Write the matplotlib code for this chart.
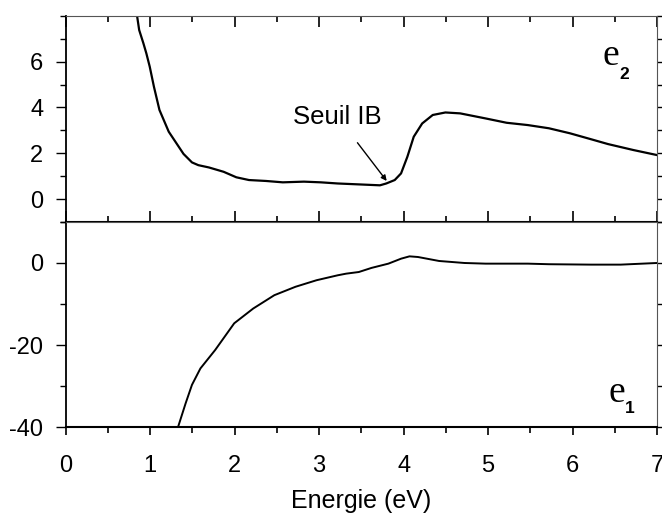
import matplotlib
matplotlib.use("Agg")
import matplotlib.pyplot as plt
from matplotlib.ticker import MultipleLocator

plt.rcParams['font.family'] = ['Liberation Sans', 'DejaVu Sans']
plt.rcParams['axes.unicode_minus'] = False

# Imaginary part of the dielectric function (e2)
energy_e2 = [0.84, 0.845, 0.87, 0.92, 0.955, 0.995, 1.045, 1.11, 1.22, 1.395, 1.495,
             1.57, 1.695, 1.87, 2.02, 2.17, 2.37, 2.57, 2.82, 3.02, 3.22, 3.47,
             3.72, 3.795, 3.895, 3.97, 4.045, 4.12, 4.22, 4.345, 4.495, 4.67,
             4.97, 5.22, 5.47, 5.72, 5.97, 6.22, 6.42, 6.72, 7.0]
eps2 = [8.4, 8.0, 7.38, 6.8, 6.36, 5.78, 4.9, 3.89, 2.94, 1.97, 1.60,
        1.48, 1.38, 1.19, 0.95, 0.83, 0.79, 0.73, 0.76, 0.73, 0.68, 0.64,
        0.60, 0.68, 0.83, 1.12, 1.85, 2.72, 3.30, 3.67, 3.78, 3.74,
        3.52, 3.33, 3.23, 3.09, 2.87, 2.61, 2.40, 2.14, 1.92]

# Real part of the dielectric function (e1)
energy_e1 = [1.33, 1.42, 1.495, 1.595, 1.77, 1.995, 2.22, 2.47, 2.72, 2.97, 3.22,
             3.32, 3.47, 3.62, 3.82, 3.97, 4.07, 4.17, 4.42, 4.72, 4.97, 5.47,
             5.72, 6.22, 6.57, 7.0]
eps1 = [-40.0, -34.2, -29.7, -25.7, -21.2, -14.7, -11.1, -7.85, -5.8, -4.2, -3.0,
        -2.6, -2.2, -1.2, -0.16, 1.05, 1.62, 1.46, 0.49, 0.0, -0.16, -0.16,
        -0.3, -0.4, -0.4, 0.0]

e2_ticks = [0, 2, 4, 6]
e1_ticks = [-40, -20, 0]
x_ticks = [0, 1, 2, 3, 4, 5, 6, 7]

fig = plt.figure(figsize=(6.62, 5.18), dpi=100)
left, right = 0.0992, 0.9925
ax2 = fig.add_axes([left, 0.5715, right - left, 0.398])
ax1 = fig.add_axes([left, 0.1755, right - left, 0.396], sharex=ax2)

FS = 17

for ax in (ax2, ax1):
    ax.spines['left'].set_linewidth(1.3)
    ax.spines['bottom'].set_linewidth(1.5)
    ax.spines['top'].set_linewidth(0.8)
    ax.spines['right'].set_linewidth(0.8)
    ax.spines['top'].set_color('#555555')
    ax.spines['right'].set_color('#555555')
    ax.xaxis.set_major_locator(MultipleLocator(1))
    ax.xaxis.set_minor_locator(MultipleLocator(0.5))

ax2.plot(energy_e2, eps2, color='black', lw=1.6)
ax2.set_xlim(0, 7)
ax2.set_ylim(-1, 8)
ax2.set_yticks(e2_ticks)
ax2.yaxis.set_minor_locator(MultipleLocator(1))
ax2.tick_params(axis='x', which='both', direction='in', labelbottom=False,
                top=True, width=1.2)
ax2.tick_params(axis='x', which='major', length=8)
ax2.tick_params(axis='x', which='minor', length=4)
ax2.tick_params(axis='y', which='both', direction='out', right=True,
                labelsize=FS, width=1.0, pad=9)
ax2.tick_params(axis='y', which='major', length=7)
ax2.tick_params(axis='y', which='minor', length=4)

ax1.plot(energy_e1, eps1, color='black', lw=1.4)
ax1.set_ylim(-40, 10)
ax1.set_yticks(e1_ticks)
ax1.yaxis.set_minor_locator(MultipleLocator(10))
ax1.set_xticks(x_ticks)
ax1.tick_params(axis='x', which='both', direction='out', labelsize=FS,
                width=1.2, pad=14)
ax1.tick_params(axis='x', which='major', length=6)
ax1.tick_params(axis='x', which='minor', length=4)
ax1.tick_params(axis='y', which='both', direction='out', right=True,
                labelsize=FS, width=1.0, pad=9)
ax1.tick_params(axis='y', which='major', length=7)
ax1.tick_params(axis='y', which='minor', length=4)
ax1.set_xlabel('Energie (eV)', fontsize=18, labelpad=9)

ax2.annotate('Seuil IB', xy=(3.80, 0.79), xytext=(3.22, 3.28),
             fontsize=18.5, ha='center', va='baseline',
             arrowprops=dict(arrowstyle='-|>', color='black', lw=1.0,
                             mutation_scale=8, shrinkA=10, shrinkB=0))

ax2.text(6.45, 5.85, 'e', family='Liberation Serif', fontsize=27,
         ha='center', va='baseline')
ax2.text(6.56, 5.23, '2', fontsize=12.5, fontweight='bold', ha='left', va='baseline')
ax1.text(6.52, -33.8, 'e', family='Liberation Serif', fontsize=27,
         ha='center', va='baseline')
ax1.text(6.62, -36.5, '1', fontsize=12.5, fontweight='bold', ha='left', va='baseline')

fig.savefig('out.png', dpi=100)
